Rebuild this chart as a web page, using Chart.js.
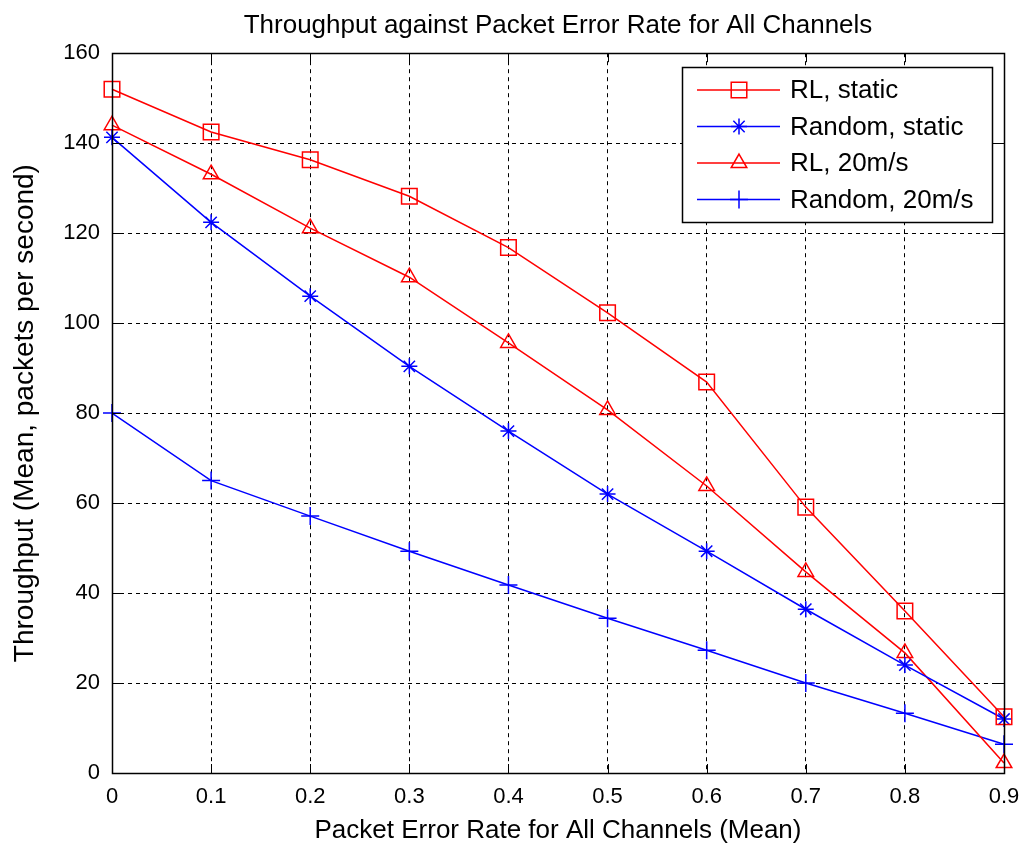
<!DOCTYPE html>
<html>
<head>
<meta charset="utf-8">
<script src="https://cdn.jsdelivr.net/npm/chart.js@4.4.0/dist/chart.umd.min.js"></script>
<style>
  body { margin: 0; background: #fff; }
  #wrap { width: 1023px; height: 849px; }
</style>
</head>
<body>
<div id="wrap"><canvas id="myChart" width="1023" height="849"></canvas></div>
<script>
// Packet error rate (x)
const per = [0, 0.1, 0.2, 0.3, 0.4, 0.5, 0.6, 0.7, 0.8, 0.9];

// Throughput series
const rlStatic = [152, 142.5, 136.3, 128.2, 116.8, 102.3, 86.9, 59.1, 36, 12.5];
const randomStatic = [141.3, 122.4, 106, 90.4, 76, 62, 49.3, 36.4, 24, 12];
const rl20 = [144, 133.1, 121.1, 110.2, 95.6, 80.7, 63.8, 44.7, 26.7, 2.2];
const random20 = [80, 65, 57.1, 49.3, 41.8, 34.4, 27.3, 20, 13.3, 6.4];

const xTicks = [0, 0.1, 0.2, 0.3, 0.4, 0.5, 0.6, 0.7, 0.8, 0.9];
const yTicks = [0, 20, 40, 60, 80, 100, 120, 140, 160];

const RED = "rgb(255,0,0)";
const BLUE = "rgb(0,0,255)";
const FONT = "'Liberation Sans', Arial, sans-serif";

function pts(ys) {
  return ys.map((y, i) => ({ x: per[i], y: y }));
}

// box around plot, inward ticks and the legend
const matlabAxes = {
  id: "matlabAxes",
  afterDatasetsDraw(chart) {
    const { ctx, chartArea: a, scales } = chart;
    ctx.save();
    ctx.strokeStyle = "#000";
    ctx.lineWidth = 1;
    ctx.setLineDash([]);
    ctx.beginPath();
    xTicks.forEach(v => {
      const px = Math.round(scales.x.getPixelForValue(v)) + 0.5;
      ctx.moveTo(px, a.bottom); ctx.lineTo(px, a.bottom - 9);
      ctx.moveTo(px, a.top); ctx.lineTo(px, a.top + 9);
    });
    yTicks.forEach(v => {
      const py = Math.round(scales.y.getPixelForValue(v)) + 0.5;
      ctx.moveTo(a.left, py); ctx.lineTo(a.left + 9, py);
      ctx.moveTo(a.right, py); ctx.lineTo(a.right - 9, py);
    });
    ctx.stroke();
    ctx.lineWidth = 1.5;
    ctx.strokeRect(Math.round(a.left) + 0.5, Math.round(a.top) + 0.5,
      Math.round(a.right - a.left), Math.round(a.bottom - a.top));

    // legend
    const lx = 682, ly = 67, lw = 310, lh = 155;
    ctx.fillStyle = "#fff";
    ctx.fillRect(lx, ly, lw, lh);
    ctx.lineWidth = 1.5;
    ctx.strokeStyle = "#000";
    ctx.strokeRect(lx + 0.5, ly + 0.5, lw, lh);
    ctx.font = "26px " + FONT;
    ctx.textBaseline = "middle";
    chart.data.datasets.forEach((ds, i) => {
      const y = ly + 23 + i * 36.5;
      ctx.strokeStyle = ds.borderColor;
      ctx.fillStyle = ds.pointBackgroundColor;
      ctx.lineWidth = 1.5;
      ctx.beginPath();
      ctx.moveTo(697, y); ctx.lineTo(780, y);
      ctx.stroke();
      Chart.helpers.drawPoint(ctx, {
        pointStyle: ds.pointStyle, radius: ds.pointRadius,
        rotation: 0, borderWidth: ds.pointBorderWidth
      }, 739, y);
      ctx.fillStyle = "#000";
      ctx.fillText(ds.label, 790, y + 1);
    });
    ctx.restore();
  }
};

new Chart(document.getElementById("myChart").getContext("2d"), {
  type: "line",
  data: {
    datasets: [
      {
        label: "RL, static",
        data: pts(rlStatic),
        borderColor: RED,
        pointBorderColor: RED,
        pointBackgroundColor: "rgba(0,0,0,0)",
        pointStyle: "rect",
        pointRadius: 11,
        pointBorderWidth: 1.5,
        borderWidth: 1.5,
        clip: false
      },
      {
        label: "Random, static",
        data: pts(randomStatic),
        borderColor: BLUE,
        pointBorderColor: BLUE,
        pointBackgroundColor: BLUE,
        pointStyle: "star",
        pointRadius: 8,
        pointBorderWidth: 1.5,
        borderWidth: 1.5,
        clip: false
      },
      {
        label: "RL, 20m/s",
        data: pts(rl20),
        borderColor: RED,
        pointBorderColor: RED,
        pointBackgroundColor: "rgba(0,0,0,0)",
        pointStyle: "triangle",
        pointRadius: 9,
        pointBorderWidth: 1.5,
        borderWidth: 1.5,
        clip: false
      },
      {
        label: "Random, 20m/s",
        data: pts(random20),
        borderColor: BLUE,
        pointBorderColor: BLUE,
        pointBackgroundColor: BLUE,
        pointStyle: "cross",
        pointRadius: 9,
        pointBorderWidth: 1.5,
        borderWidth: 1.5,
        clip: false
      }
    ]
  },
  options: {
    responsive: false,
    animation: false,
    layout: { autoPadding: false, padding: { left: 8, right: 19, top: 0, bottom: 0 } },
    plugins: {
      legend: { display: false },
      tooltip: { enabled: false },
      title: {
        display: true,
        fullSize: false,
        text: "Throughput against Packet Error Rate for All Channels",
        color: "#000",
        font: { family: FONT, size: 26, weight: "normal" },
        padding: { top: 10, bottom: 12 }
      }
    },
    scales: {
      x: {
        type: "linear",
        min: 0,
        max: 0.9,
        afterBuildTicks(scale) { scale.ticks = xTicks.map(v => ({ value: v })); },
        afterFit(scale) {
          scale.height = 76;
          scale.paddingLeft = 0;
          scale.paddingRight = 0;
        },
        ticks: {
          color: "#000",
          font: { family: FONT, size: 22 },
          padding: 11,
          maxRotation: 0,
          callback: v => String(v)
        },
        grid: { color: "#000", lineWidth: 1, drawTicks: false },
        border: { display: false, dash: [4, 4] },
        title: {
          display: true,
          text: "Packet Error Rate for All Channels (Mean)",
          color: "#000",
          font: { family: FONT, size: 26 },
          padding: { top: 0, bottom: 3 }
        }
      },
      y: {
        min: 0,
        max: 160,
        afterBuildTicks(scale) { scale.ticks = yTicks.map(v => ({ value: v })); },
        afterFit(scale) {
          scale.width = 104;
          scale.paddingTop = 0;
          scale.paddingBottom = 0;
        },
        ticks: {
          color: "#000",
          font: { family: FONT, size: 22 },
          padding: 12
        },
        grid: { color: "#000", lineWidth: 1, drawTicks: false },
        border: { display: false, dash: [4, 4] },
        title: {
          display: true,
          text: "Throughput (Mean, packets per second)",
          color: "#000",
          font: { family: FONT, size: 28 },
          padding: { top: 0, bottom: 2 }
        }
      }
    }
  },
  plugins: [matlabAxes]
});
</script>
</body>
</html>
